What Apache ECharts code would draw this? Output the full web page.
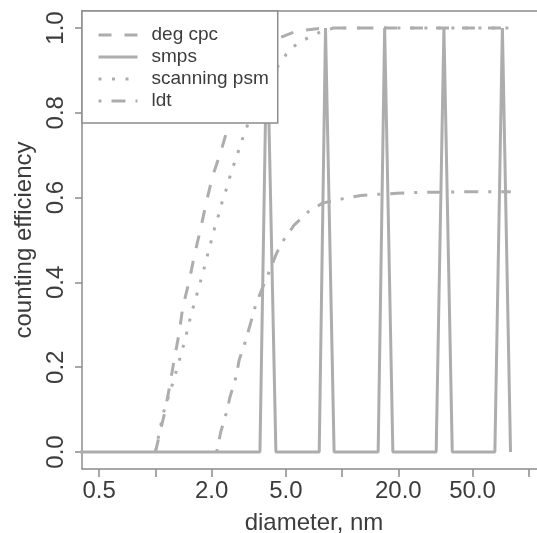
<!DOCTYPE html>
<html>
<head>
<meta charset="utf-8">
<script src="https://cdn.jsdelivr.net/npm/echarts@6/dist/echarts.min.js"></script>
<style>
  html, body { margin: 0; padding: 0; background: #fff; }
  #chart { width: 537px; height: 533px; }
</style>
</head>
<body>
<div id="chart"></div>
<script>
// diameters in nm, efficiencies 0..1
var degCpcD = [1.0, 1.12, 1.19, 1.26, 1.34, 1.40, 1.52, 1.62, 1.75, 1.87, 2.02, 2.24, 2.45, 2.8, 3.2, 3.7, 4.4, 5.5, 6.6, 8.0, 80];
var degCpcE = [0, 0.092, 0.153, 0.217, 0.28, 0.34, 0.405, 0.465, 0.528, 0.587, 0.649, 0.708, 0.767, 0.85, 0.91, 0.95, 0.973, 0.99, 0.996, 1.0, 1.0];

var smpsD = [0.3, 3.63, 3.96, 4.42, 7.54, 8.15, 9.06, 15.6, 16.9, 18.7, 31.9, 35.1, 38.9, 65.8, 72.2, 79.8];
var smpsE = [0, 0, 1, 0, 0, 1, 0, 0, 1, 0, 0, 1, 0, 0, 1, 0];

var psmD = [1.0, 1.1, 1.25, 1.37, 1.43, 1.49, 1.55, 1.62, 1.75, 1.85, 1.92, 2.01, 2.09, 2.20, 2.29, 2.42, 2.53, 2.67, 2.81, 2.96, 3.3, 3.9, 4.6, 5.06, 5.70, 6.58, 7.62, 9.0, 80];
var psmE = [0, 0.09, 0.168, 0.229, 0.26, 0.29, 0.323, 0.352, 0.405, 0.443, 0.472, 0.504, 0.534, 0.564, 0.594, 0.625, 0.656, 0.686, 0.715, 0.745, 0.80, 0.87, 0.914, 0.94, 0.962, 0.977, 0.99, 1.0, 1.0];

var ldtD = [2.13, 2.24, 2.40, 2.51, 2.70, 2.81, 3.03, 3.25, 3.43, 3.67, 4.07, 4.46, 4.90, 5.53, 6.61, 7.85, 10, 12.6, 15.8, 19.7, 24.8, 30.3, 50, 80];
var ldtE = [0, 0.048, 0.092, 0.13, 0.176, 0.217, 0.26, 0.307, 0.344, 0.378, 0.425, 0.469, 0.502, 0.535, 0.567, 0.587, 0.597, 0.605, 0.608, 0.61, 0.612, 0.6125, 0.614, 0.614];

var xTicks = [0.5, 1, 2, 5, 10, 20, 50, 100];
var xLabels = [0.5, 2, 5, 20, 50];
var yTicks = [0, 0.2, 0.4, 0.6, 0.8, 1.0];

// x range 0.5..100 and y range 0..1, padded 4% each side like R
var xLo = Math.log10(0.5), xHi = Math.log10(100);
var yLo = 0, yHi = 1;

function pts(d, e) {
    var out = [];
    for (var i = 0; i < d.length; i++) {
        out.push([Math.log10(d[i]), e[i]]);
    }
    return out;
}
function lg(arr) {
    return arr.map(function (v) { return Math.log10(v); });
}

var grey = '#adadad';
var box = '#8c8c8c';
var txt = '#3c3c3c';
var font = '"Liberation Sans", Arial, sans-serif';

var myChart = echarts.init(document.getElementById('chart'));
var option = {
    animation: false,
    backgroundColor: '#fff',
    grid: {
        // plot box runs past the right edge of the picture
        left: 82, top: 11, width: 464, height: 458,
        show: false, containLabel: false, outerBoundsMode: 'none'
    },
    legend: {
        orient: 'vertical',
        left: 82, top: 11,
        backgroundColor: '#fff',
        borderColor: box, borderWidth: 1.5, borderRadius: 0,
        padding: [14, 9, 12, 15],
        itemWidth: 39, itemHeight: 14, itemGap: 2,
        itemStyle: { color: 'rgba(0,0,0,0)', borderWidth: 0 },
        lineStyle: { width: 3 },
        textStyle: { fontFamily: font, fontSize: 19, color: txt, lineHeight: 20, padding: [0, 0, 0, 9] },
        data: ['deg cpc', 'smps', 'scanning psm', 'ldt']
    },
    xAxis: [{
        type: 'value',
        min: xLo - 0.04 * (xHi - xLo),
        max: xHi + 0.04 * (xHi - xLo),
        splitLine: { show: false },
        axisLine: { show: true, onZero: false, lineStyle: { color: box, width: 1.5 } },
        axisTick: { show: true, length: 8, lineStyle: { color: box, width: 1.5 }, customValues: lg(xTicks) },
        axisLabel: {
            customValues: lg(xLabels),
            fontFamily: font, fontSize: 24, color: txt, margin: 10,
            formatter: function (v) { return Math.pow(10, v).toFixed(1); }
        },
        name: 'diameter, nm',
        nameLocation: 'middle',
        nameGap: 42,
        nameTextStyle: { fontFamily: font, fontSize: 24, color: txt }
    }, {
        // top edge of the box
        type: 'value', position: 'top',
        min: xLo - 0.04 * (xHi - xLo),
        max: xHi + 0.04 * (xHi - xLo),
        splitLine: { show: false },
        axisLine: { show: true, onZero: false, lineStyle: { color: box, width: 1.5 } },
        axisTick: { show: false },
        axisLabel: { show: false }
    }],
    yAxis: {
        type: 'value',
        min: yLo - 0.04 * (yHi - yLo),
        max: yHi + 0.04 * (yHi - yLo),
        splitLine: { show: false },
        axisLine: { show: true, onZero: false, lineStyle: { color: box, width: 1.5 } },
        axisTick: { show: true, length: 7, lineStyle: { color: box, width: 1.5 }, customValues: yTicks },
        axisLabel: {
            customValues: yTicks,
            rotate: 90,
            fontFamily: font, fontSize: 24, color: txt, margin: 14,
            formatter: function (v) { return v.toFixed(1); }
        },
        name: 'counting efficiency',
        nameLocation: 'middle',
        nameRotate: 90,
        nameGap: 28,
        nameTextStyle: { fontFamily: font, fontSize: 24, color: txt }
    },
    series: [{
        name: 'deg cpc', type: 'line', showSymbol: false, symbol: 'none',
        lineStyle: { color: grey, width: 3, type: [13, 13] },
        itemStyle: { color: grey },
        data: pts(degCpcD, degCpcE)
    }, {
        name: 'smps', type: 'line', showSymbol: false, symbol: 'none',
        lineStyle: { color: grey, width: 3, type: 'solid' },
        itemStyle: { color: grey },
        data: pts(smpsD, smpsE)
    }, {
        name: 'scanning psm', type: 'line', showSymbol: false, symbol: 'none',
        lineStyle: { color: grey, width: 3, type: [3, 10.5] },
        itemStyle: { color: grey },
        data: pts(psmD, psmE)
    }, {
        name: 'ldt', type: 'line', showSymbol: false, symbol: 'none',
        lineStyle: { color: grey, width: 3, type: [3, 10, 14, 10] },
        itemStyle: { color: grey },
        data: pts(ldtD, ldtE)
    }]
};
myChart.setOption(option);
</script>
</body>
</html>
